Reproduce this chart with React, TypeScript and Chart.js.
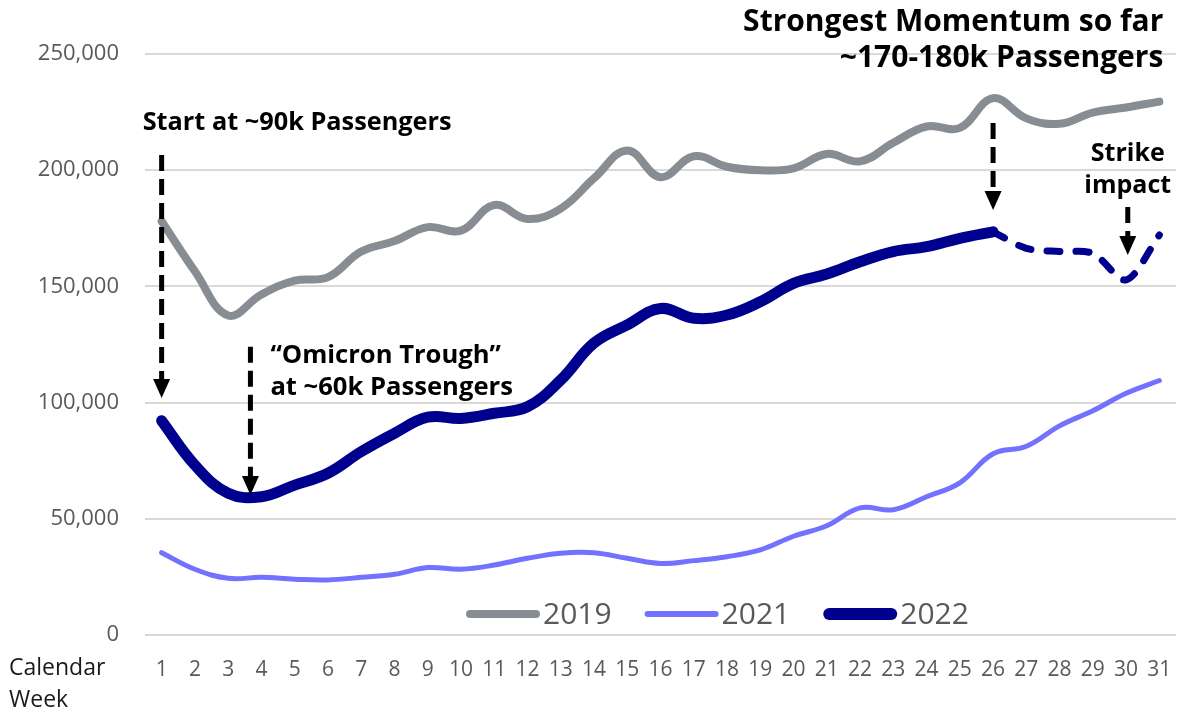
import React, { useEffect, useRef } from "react";
import { Chart, registerables } from "chart.js";

Chart.register(...registerables);

const weeks = ["1","2","3","4","5","6","7","8","9","10","11","12","13","14","15","16","17","18","19","20","21","22","23","24","25","26","27","28","29","30","31"];

const passengers2019 = [178000, 156500, 137500, 146500, 152500, 154000, 165000, 169500, 175500, 174000, 185000, 179000, 183500, 196500, 208500, 197000, 206000, 201500, 200000, 200800, 207000, 203800, 211800, 218800, 218200, 231000, 222300, 220000, 224800, 227000, 229500];

const passengers2021 = [35400, 28300, 24400, 24800, 24000, 23700, 24800, 26100, 29000, 28300, 30100, 33000, 35200, 35400, 33000, 30800, 32000, 33700, 36600, 42500, 47000, 54700, 53900, 59500, 65500, 78000, 81200, 90000, 96500, 104000, 109500];

const passengers2022 = [92200, 73100, 61000, 59500, 64500, 69600, 78900, 86800, 93700, 93200, 95400, 98200, 109700, 125600, 133400, 140500, 136300, 137700, 143400, 151300, 155300, 160600, 165000, 167100, 170700, 173500, null, null, null, null, null];

const passengers2022Dashed = [null, null, null, null, null, null, null, null, null, null, null, null, null, null, null, null, null, null, null, null, null, null, null, null, null, 173500, 166400, 165000, 164200, 152800, 172100];

const yTickValues = [0, 50000, 100000, 150000, 200000, 250000];

const legendItems = [
  { label: "2019", color: "#878d92", width: 8 },
  { label: "2021", color: "#7272ff", width: 6 },
  { label: "2022", color: "#00008f", width: 12 },
];

// annotation arrows: week position, start value, tip value
const arrows = [
  { week: 1, from: 206500, to: 102000 },
  { week: 3.67, from: 124000, to: 60200 },
  { week: 26, from: 220300, to: 182900 },
  { week: 30.05, from: 184200, to: 163500 },
];

// annotation texts: week (position), value (vertical), alignment
const notes = [
  { text: "Strongest Momentum so far", week: 31.12, value: 263500, align: "right", size: 30 },
  { text: "~170-180k Passengers", week: 31.12, value: 248000, align: "right", size: 30 },
  { text: "Start at ~90k Passengers", week: 0.43, value: 220500, align: "left", size: 25.3 },
  { text: "\u201COmicron Trough\u201D", week: 4.27, value: 120000, align: "left", size: 25.6 },
  { text: "at ~60k Passengers", week: 4.27, value: 106600, align: "left", size: 25.6 },
  { text: "Strike", week: 30.05, value: 207000, align: "center", size: 25 },
  { text: "impact", week: 30.05, value: 193200, align: "center", size: 25 },
];

const FONT = "'Open Sans', 'Noto Sans', sans-serif";

const overlayPlugin = {
  id: "overlay",
  afterDatasetsDraw(chart: any) {
    const ctx = chart.ctx as CanvasRenderingContext2D;
    const xs = chart.scales.x;
    const ys = chart.scales.y;
    const area = chart.chartArea;
    ctx.save();

    // arrows
    for (const a of arrows) {
      const px = xs.getPixelForValue(a.week - 1);
      const y0 = ys.getPixelForValue(a.from);
      const y1 = ys.getPixelForValue(a.to);
      const head = 19;
      ctx.strokeStyle = "#000";
      ctx.fillStyle = "#000";
      ctx.lineWidth = 5;
      ctx.lineCap = "butt";
      ctx.setLineDash([16, 8]);
      ctx.beginPath();
      ctx.moveTo(px, y0);
      ctx.lineTo(px, y1 - head);
      ctx.stroke();
      ctx.setLineDash([]);
      ctx.beginPath();
      ctx.moveTo(px - 8.5, y1 - head);
      ctx.lineTo(px + 8.5, y1 - head);
      ctx.lineTo(px, y1);
      ctx.closePath();
      ctx.fill();
    }

    // notes
    ctx.fillStyle = "#000";
    ctx.textBaseline = "middle";
    for (const n of notes) {
      ctx.font = `bold ${n.size}px ${FONT}`;
      ctx.textAlign = n.align as CanvasTextAlign;
      ctx.fillText(n.text, xs.getPixelForValue(n.week - 1), ys.getPixelForValue(n.value));
    }

    // legend
    let lx = area.left + 321;
    const ly = area.bottom - 21;
    ctx.font = `30px ${FONT}`;
    ctx.textAlign = "left";
    for (const it of legendItems) {
      ctx.strokeStyle = it.color;
      ctx.lineWidth = it.width;
      ctx.lineCap = "round";
      ctx.beginPath();
      ctx.moveTo(lx + it.width / 2, ly);
      ctx.lineTo(lx + 74 - it.width / 2, ly);
      ctx.stroke();
      ctx.fillStyle = "#595959";
      ctx.fillText(it.label, lx + 77, ly + 1);
      const w = ctx.measureText(it.label).width;
      lx += 77 + w + 33;
    }

    // axis title
    ctx.fillStyle = "#1a1a1a";
    ctx.font = `23px ${FONT}`;
    ctx.textAlign = "left";
    ctx.fillText("Calendar", 9, area.bottom + 33);
    ctx.fillText("Week", 9, area.bottom + 65);

    ctx.restore();
  },
};

export default function App() {
  const ref = useRef<HTMLCanvasElement | null>(null);

  useEffect(() => {
    document.body.style.margin = "0";
    if (!ref.current) return;
    const chart = new Chart(ref.current, {
      type: "line",
      data: {
        labels: weeks,
        datasets: [
          {
            label: "2019",
            data: passengers2019,
            borderColor: "#878d92",
            borderWidth: 8,
            tension: 0.4,
            pointRadius: 0,
            borderCapStyle: "round",
          },
          {
            label: "2021",
            data: passengers2021,
            borderColor: "#7272ff",
            borderWidth: 5,
            tension: 0.4,
            pointRadius: 0,
            borderCapStyle: "round",
          },
          {
            label: "2022",
            data: passengers2022,
            borderColor: "#00008f",
            borderWidth: 11,
            tension: 0.4,
            pointRadius: 0,
            borderCapStyle: "round",
          },
          {
            label: "2022 (dashed)",
            data: passengers2022Dashed,
            borderColor: "#00008f",
            borderWidth: 7,
            tension: 0.3,
            pointRadius: 0,
            borderCapStyle: "round",
            borderDash: [13, 16],
          },
        ],
      },
      options: {
        responsive: false,
        animation: false,
        layout: { padding: { top: 54, right: 1, left: 0, bottom: 0 } },
        plugins: {
          legend: { display: false },
          tooltip: { enabled: false },
        },
        scales: {
          x: {
            type: "category",
            offset: true,
            grid: { display: false, drawTicks: false },
            border: { display: false },
            ticks: {
              autoSkip: false,
              maxRotation: 0,
              padding: 22,
              color: "#595959",
              font: { family: FONT, size: 21 },
            },
            afterFit: (s: any) => {
              s.height = 76;
              s.paddingLeft = 0;
              s.paddingRight = 0;
            },
          },
          y: {
            min: 0,
            max: 250000,
            afterBuildTicks: (s: any) => {
              s.ticks = yTickValues.map((v) => ({ value: v }));
            },
            grid: { color: "#d9d9d9", lineWidth: 2, drawTicks: false },
            border: { display: false },
            ticks: {
              padding: 26,
              color: "#595959",
              font: { family: FONT, size: 22 },
              callback: (v: any) => Number(v).toLocaleString("en-US"),
            },
            afterFit: (s: any) => {
              s.width = 145;
            },
          },
        },
      },
      plugins: [overlayPlugin],
    });
    return () => chart.destroy();
  }, []);

  return (
    <div style={{ width: 1177, height: 711, position: "relative", background: "#fff" }}>
      <canvas ref={ref} width={1177} height={711} style={{ width: 1177, height: 711, display: "block" }} />
    </div>
  );
}
